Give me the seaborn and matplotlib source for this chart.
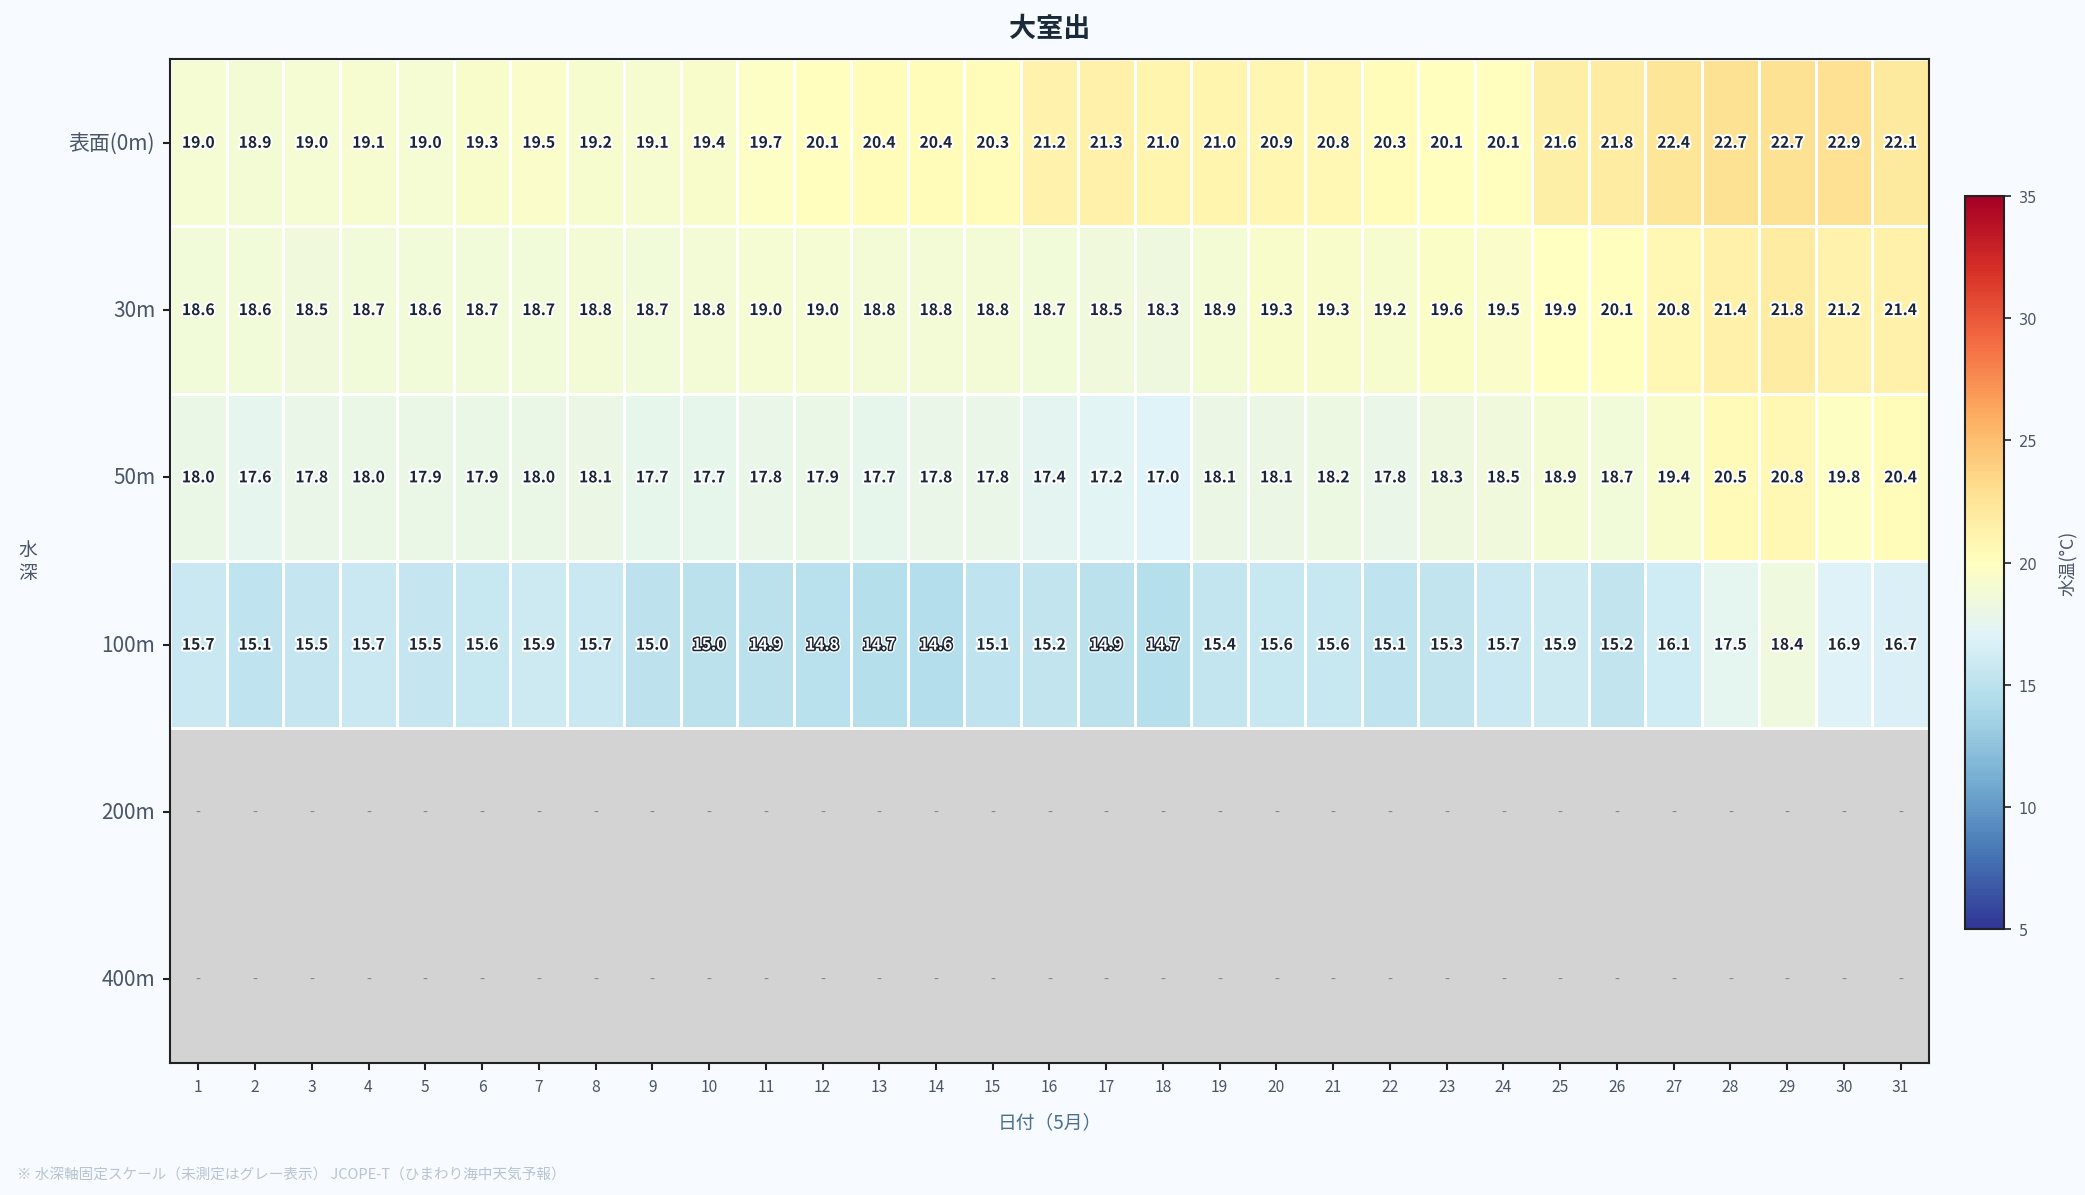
import numpy as np
import pandas as pd
import matplotlib
matplotlib.use("Agg")
import matplotlib.pyplot as plt
import matplotlib.patheffects as pe
import seaborn as sns

# 日付（5月）
days = list(range(1, 32))
depths = ['表面(0m)', '30m', '50m', '100m', '200m', '400m']

# 水温データ（各水深）
temp_0m = [19.0, 18.9, 19.0, 19.1, 19.0, 19.3, 19.5, 19.2, 19.1, 19.4, 19.7, 20.1, 20.4, 20.4, 20.3, 21.2,
           21.3, 21.0, 21.0, 20.9, 20.8, 20.3, 20.1, 20.1, 21.6, 21.8, 22.4, 22.7, 22.7, 22.9, 22.1]
temp_30m = [18.6, 18.6, 18.5, 18.7, 18.6, 18.7, 18.7, 18.8, 18.7, 18.8, 19.0, 19.0, 18.8, 18.8, 18.8, 18.7,
            18.5, 18.3, 18.9, 19.3, 19.3, 19.2, 19.6, 19.5, 19.9, 20.1, 20.8, 21.4, 21.8, 21.2, 21.4]
temp_50m = [18.0, 17.6, 17.8, 18.0, 17.9, 17.9, 18.0, 18.1, 17.7, 17.7, 17.8, 17.9, 17.7, 17.8, 17.8, 17.4,
            17.2, 17.0, 18.1, 18.1, 18.2, 17.8, 18.3, 18.5, 18.9, 18.7, 19.4, 20.5, 20.8, 19.8, 20.4]
temp_100m = [15.7, 15.1, 15.5, 15.7, 15.5, 15.6, 15.9, 15.7, 15.0, 14.96, 14.9, 14.8, 14.7, 14.6, 15.1, 15.2,
             14.9, 14.7, 15.4, 15.6, 15.6, 15.1, 15.3, 15.7, 15.9, 15.2, 16.1, 17.5, 18.4, 16.9, 16.7]
temp_200m = [np.nan] * 31  # 未測定
temp_400m = [np.nan] * 31  # 未測定

BG = '#f7faff'
DARK = '#1a2535'
GRAY = '#4a5568'

df = pd.DataFrame([temp_0m, temp_30m, temp_50m, temp_100m, temp_200m, temp_400m],
                  index=depths, columns=days)

fig = plt.figure(figsize=(13.9, 7.973), dpi=150, facecolor=BG)
plt.rcParams['font.family'] = ['Noto Sans CJK JP', 'DejaVu Sans']

ax = fig.add_axes([0.0815, 0.1104, 0.8437, 0.8394])
cax = fig.add_axes([0.9424, 0.2224, 0.0187, 0.6128])
ax.set_facecolor('lightgray')

sns.heatmap(df, ax=ax, cbar_ax=cax, cmap='RdYlBu_r', vmin=5, vmax=35,
            linewidths=1.4, linecolor='white', annot=False)

# 未測定セルは枠線なし
mesh = ax.collections[0]
nan_flat = np.isnan(df.values).ravel()
ec = np.array([[0, 0, 0, 0] if m else [1, 1, 1, 1] for m in nan_flat], dtype=float)
mesh.set_edgecolor(ec)

# 値のラベル
for i in range(df.shape[0]):
    for j in range(df.shape[1]):
        v = df.iloc[i, j]
        if np.isnan(v):
            ax.text(j + 0.5, i + 0.5, '-', ha='center', va='center', fontsize=7, color='#888888')
        elif v < 15:
            ax.text(j + 0.5, i + 0.5, f'{v:.1f}', ha='center', va='center', fontsize=7.5,
                    fontweight='bold', color='white',
                    path_effects=[pe.withStroke(linewidth=2.8, foreground='white'),
                                  pe.withStroke(linewidth=1.5, foreground=DARK)])
        else:
            ax.text(j + 0.5, i + 0.5, f'{v:.1f}', ha='center', va='center', fontsize=7.5,
                    fontweight='bold', color=DARK,
                    path_effects=[pe.withStroke(linewidth=2, foreground='white')])

for s in ax.spines.values():
    s.set_visible(True)
    s.set_color('#222222')
    s.set_linewidth(1.0)

ax.set_title('大室出', fontsize=13, fontweight='bold', color='#1a2a3a', pad=11)
ax.set_xlabel('日付（5月）', fontsize=9, color='#4a7090', labelpad=8)
ax.set_ylabel('水\n深', fontsize=9, color=GRAY, rotation=0, va='center', linespacing=1.1)
ax.yaxis.set_label_coords(-0.081, 0.5)
ax.set_yticklabels(depths, rotation=0, fontsize=10, color=GRAY)
ax.set_xticklabels(days, rotation=0, fontsize=7.5, color=GRAY)
ax.tick_params(axis='both', length=3.5, width=1.0, color='#222222')

cbar = mesh.colorbar
cbar.set_ticks([5, 10, 15, 20, 25, 30, 35])
cbar.ax.tick_params(labelsize=7, colors=GRAY, length=3.5, width=0.8)
cbar.ax.yaxis.set_tick_params(color='#222222')
for t in cbar.ax.get_yticklabels():
    t.set_family('DejaVu Sans')
cbar.outline.set_edgecolor('#222222')
cbar.outline.set_linewidth(1.0)
cbar.set_label('水温(°C)', fontsize=8.5, color=GRAY, labelpad=10)

fig.text(0.008, 0.018, '※ 水深軸固定スケール（未測定はグレー表示） JCOPE-T（ひまわり海中天気予報）',
         fontsize=7, color='#b8c4d0', ha='left', va='center')

fig.savefig('out.png', dpi=150, facecolor=BG)
